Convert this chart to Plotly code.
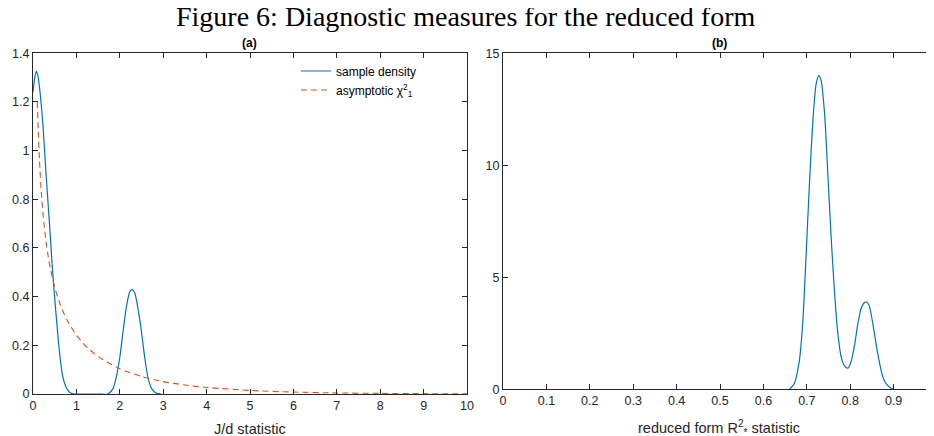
import plotly.graph_objects as go

# ---- data ----
# (a) sample density of J/d statistic
jd_x = [0.0, 0.04, 0.076, 0.11, 0.15, 0.227, 0.30, 0.38, 0.455, 0.53, 0.606, 0.68, 0.758, 0.83, 0.90, 0.97,
        1.2, 1.5, 1.73, 1.846, 1.92, 2.0, 2.077, 2.154, 2.23, 2.285, 2.346, 2.42, 2.5, 2.577, 2.654, 2.73, 2.846, 2.95]
jd_y = [1.24, 1.30, 1.326, 1.31, 1.26, 1.11, 0.905, 0.70, 0.495, 0.33, 0.18, 0.078, 0.03, 0.01, 0.002, 0.0,
        0.0, 0.0, 0.0, 0.023, 0.071, 0.15, 0.26, 0.36, 0.42, 0.429, 0.415, 0.35, 0.255, 0.146, 0.064, 0.023, 0.003, 0.0]

# (a) asymptotic chi-square(1) density
chi_x = [0.1, 0.12, 0.15, 0.2, 0.25, 0.3, 0.35, 0.4, 0.5, 0.6, 0.7, 0.8, 1.0, 1.2, 1.5, 2.0, 2.5, 3.0, 3.5,
         4.0, 5.0, 6.0, 7.0, 8.0, 9.0, 10.0]
chi_y = [1.20, 1.085, 0.956, 0.807, 0.704, 0.627, 0.566, 0.516, 0.439, 0.382, 0.336, 0.299, 0.242, 0.200,
         0.154, 0.104, 0.072, 0.051, 0.037, 0.027, 0.0146, 0.008, 0.0044, 0.0025, 0.0014, 0.00085]

# (b) sample density of reduced form R^2 statistic
r2_x = [0.66, 0.6715, 0.683, 0.691, 0.6985, 0.706, 0.714, 0.7215, 0.7277, 0.733, 0.741, 0.748, 0.756, 0.764,
        0.7715, 0.779, 0.787, 0.7946, 0.802, 0.81, 0.8177, 0.825, 0.833, 0.8385, 0.8446, 0.852, 0.86, 0.8677,
        0.875, 0.883, 0.8946, 0.90]
r2_y = [0.0, 0.27, 1.31, 3.09, 6.06, 9.18, 12.0, 13.63, 14.0, 13.78, 12.29, 9.77, 6.8, 4.28,
        2.49, 1.46, 1.04, 0.94, 1.23, 1.97, 2.94, 3.61, 3.88, 3.9, 3.68, 2.94, 1.97, 1.16,
        0.56, 0.24, 0.04, 0.0]

a_xticks = list(range(0, 11))
a_yticks = [0, 0.2, 0.4, 0.6, 0.8, 1, 1.2, 1.4]
a_ytick_labels = ["0", "0.2", "0.4", "0.6", "0.8", "1", "1.2", "1.4"]
b_xticks = [0, 0.1, 0.2, 0.3, 0.4, 0.5, 0.6, 0.7, 0.8, 0.9]
b_xtick_labels = ["0", "0.1", "0.2", "0.3", "0.4", "0.5", "0.6", "0.7", "0.8", "0.9"]
b_yticks = [0, 5, 10, 15]

BLUE = "#0072BD"
RED = "#D95319"
AX = "#262626"
SANS = "Liberation Sans, Arial, sans-serif"

# page offset of the figure (default body margin) and figure size
OFF = 8
W, H = 934 - OFF, 436 - OFF


def px(p):  # page x pixel -> paper fraction
    return (p - OFF) / W


def py(p):  # page y pixel (from top) -> paper fraction
    return 1 - (p - OFF) / H


fig = go.Figure()
fig.add_trace(go.Scatter(x=jd_x, y=jd_y, mode="lines", line=dict(color=BLUE, width=1.2, shape="spline", smoothing=0.6),
                         name="sample density", xaxis="x", yaxis="y"))
fig.add_trace(go.Scatter(x=chi_x, y=chi_y, mode="lines", line=dict(color=RED, width=1.1, dash="6px,4px", shape="spline", smoothing=0.6),
                         name="asymptotic χ<sup>2</sup><sub>1</sub>", xaxis="x", yaxis="y"))
fig.add_trace(go.Scatter(x=r2_x, y=r2_y, mode="lines", line=dict(color=BLUE, width=1.2, shape="spline", smoothing=0.6),
                         showlegend=False, xaxis="x2", yaxis="y2"))
fig.add_trace(go.Scatter(x=[None], y=[None], mode="lines", showlegend=False, hoverinfo="skip",
                         xaxis="x2", yaxis="y3"))

common = dict(showgrid=False, zeroline=False, showline=True, linecolor=AX, linewidth=1,
              ticks="inside", ticklen=5, tickcolor=AX, tickwidth=1, automargin=False,
              tickfont=dict(family=SANS, size=12.5, color=AX))

fig.update_layout(
    width=W, height=H,
    margin=dict(l=0, r=0, t=0, b=0, autoexpand=False),
    paper_bgcolor="white", plot_bgcolor="white",
    xaxis=dict(domain=[px(33), px(467)], range=[0, 10], tickvals=a_xticks, mirror="ticks",
               anchor="y", **common),
    yaxis=dict(domain=[py(394), py(53.3)], range=[0, 1.4], tickvals=a_yticks,
               ticktext=a_ytick_labels, mirror="ticks", anchor="x", **common),
    xaxis2=dict(domain=[px(503), 1.0], range=[0, 0.993], tickvals=b_xticks, ticktext=b_xtick_labels,
                mirror="ticks", anchor="y2", **common),
    yaxis2=dict(domain=[py(389.3), py(53.3)], range=[0, 15], tickvals=b_yticks,
                anchor="x2", **common),
    yaxis3=dict(overlaying="y2", side="right", anchor="free", position=1.0, range=[0, 15],
                tickvals=b_yticks, showticklabels=False, showline=False, showgrid=False, zeroline=False,
                ticks="inside", ticklen=5, tickcolor=AX, automargin=False),
    legend=dict(x=px(296), y=py(56.5), xanchor="left", yanchor="top", bgcolor="rgba(0,0,0,0)",
                font=dict(family=SANS, size=12, color="black"), tracegroupgap=0),
    showlegend=True,
    annotations=[
        dict(text="Figure 6: Diagnostic measures for the reduced form", x=px(465), y=py(34), xref="paper",
             yref="paper", xanchor="center", yanchor="bottom", showarrow=False,
             font=dict(family="Liberation Serif, DejaVu Serif, serif", size=28, color="black")),
        dict(text="<b>(a)</b>", x=px(250), y=py(52), xref="paper", yref="paper", xanchor="center",
             yanchor="bottom", showarrow=False, font=dict(family=SANS, size=12, color="black")),
        dict(text="<b>(b)</b>", x=px(719), y=py(52), xref="paper", yref="paper", xanchor="center",
             yanchor="bottom", showarrow=False, font=dict(family=SANS, size=12, color="black")),
        dict(text="J/d statistic", x=px(250), y=py(439), xref="paper", yref="paper", xanchor="center",
             yanchor="bottom", showarrow=False, font=dict(family=SANS, size=14.5, color=AX)),
        dict(text="reduced form R<sup>2</sup><sub>*</sub> statistic", x=px(719), y=py(440), xref="paper",
             yref="paper", xanchor="center", yanchor="bottom", showarrow=False,
             font=dict(family=SANS, size=14.5, color=AX)),
    ],
)

fig.write_html("out.html")
